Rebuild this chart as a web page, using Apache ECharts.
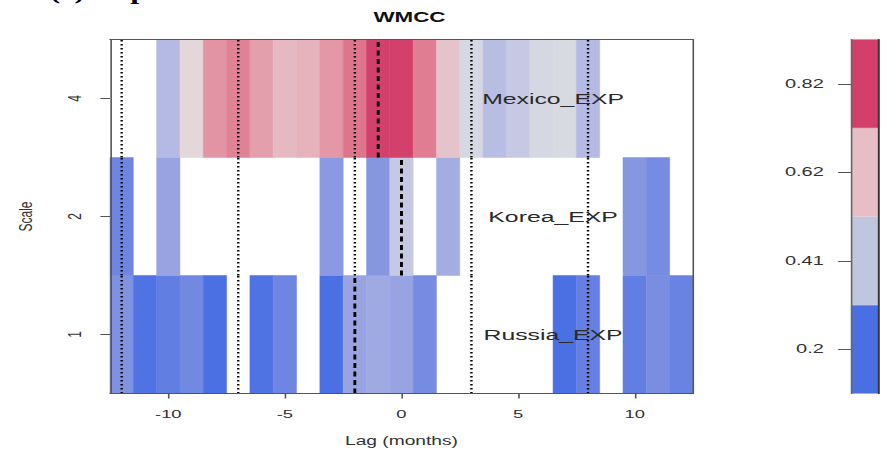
<!DOCTYPE html>
<html>
<head>
<meta charset="utf-8">
<script src="https://cdn.jsdelivr.net/npm/echarts@6/dist/echarts.min.js"></script>
<style>
  html, body { margin: 0; padding: 0; background: #fff; }
  #frame { width: 886px; height: 453px; overflow: hidden; position: relative; }
  /* chart is laid out narrow and stretched horizontally, like the original R export */
  #chart { width: 554px; height: 453px; transform-origin: 0 0; transform: scaleX(1.59928); }
</style>
</head>
<body>
<div id="frame"><div id="chart"></div></div>
<script>
// Lags (months) for each column of the wavelet multiple cross-correlation map
const lags = [-12, -11, -10, -9, -8, -7, -6, -5, -4, -3, -2, -1, 0, 1, 2, 3, 4, 5, 6, 7, 8, 9, 10, 11, 12];

// Wavelet scales, bottom row first
const scales = ['1', '2', '4'];
const rowNames = ['Russia_EXP', 'Korea_EXP', 'Mexico_EXP'];

// Correlation per lag for each scale (null = not shown)
const russia = [0.22, 0.11, 0.15, 0.19, 0.10, null, 0.11, 0.18, null, 0.10, 0.29, 0.31, 0.29, 0.20, null, null, null, null, null, 0.10, 0.16, null, 0.15, 0.21, 0.17];
const korea  = [0.18, null, 0.29, null, null, null, null, null, null, 0.25, null, 0.24, 0.42, null, 0.32, null, null, null, null, null, null, null, 0.24, 0.20, null];
const mexico = [null, null, 0.37, 0.54, 0.72, 0.77, 0.69, 0.62, 0.64, 0.71, 0.80, 0.92, 0.92, 0.78, 0.59, 0.47, 0.38, 0.42, 0.47, 0.48, 0.37, null, null, null, null];

// Lag of maximum correlation per scale (dashed line), bottom row first
const peakLags = [-2, 0, -1];
// Reference lags drawn as dotted lines
const guideLags = [-12, -7, -2, 3, 8];

// Axis tick values and colour key labels
const xTicks = [-10, -5, 0, 5, 10];
const keyLabels = ['0.2', '0.41', '0.62', '0.82'];

// Colour ramp (blue -> grey -> red) and the four key colours
const cellRamp = ['#4A6FE3', '#8595E1', '#B5BBE3', '#E2E2E2', '#E6AFB9', '#E07B91', '#D33F6A'];
const keyColors = ['#4A6FE3', '#C0C5E0', '#E8BEC6', '#D33F6A'];
const valueMin = 0.097, valueMax = 0.923;

const rows = [russia, korea, mexico];
const cells = [];
rows.forEach((vals, r) => vals.forEach((v, i) => { if (v != null) cells.push([lags[i], r, v]); }));

const lines = [];
rows.forEach((_, r) => {
  guideLags.forEach(l => { if (l !== peakLags[r]) lines.push([l, r, 0]); });
  lines.push([peakLags[r], r, 1]);
});

const labelLag = 6.5;
const rowLabels = rowNames.map((n, r) => [labelLag, r + 0.5, n]);

const FONT = '"Liberation Sans", Arial, sans-serif';
const AX = '#555';

const chart = echarts.init(document.getElementById('chart'), null, { renderer: 'svg' });

chart.setOption({
  animation: false,
  backgroundColor: '#fff',
  title: {
    text: 'WMCC',
    left: 251,
    top: 5,
    textAlign: 'center',
    textStyle: { fontFamily: FONT, fontWeight: 'bold', fontSize: 14, color: '#111' }
  },
  graphic: [{
    type: 'text', x: 31, y: -7.3,
    style: { text: '(c) Export', font: 'bold 20px "Liberation Serif", serif', fill: '#000', verticalAlign: 'middle' }
  }],
  grid: [
    { left: 68.78, right: 120.7, top: 39.5, bottom: 59.5, show: false },
    { left: 532.1, width: 17.5, top: 39.5, bottom: 59.5, show: false }
  ],
  visualMap: {
    type: 'continuous', show: false, seriesIndex: 0, dimension: 2,
    min: valueMin, max: valueMax, inRange: { color: cellRamp }
  },
  xAxis: [
    {
      gridIndex: 0, type: 'value', min: -12.5, max: 12.5, position: 'bottom', z: 10,
      axisLine: { show: true, onZero: false, lineStyle: { color: AX, width: 1 } },
      axisTick: { show: true, customValues: xTicks, length: 5, lineStyle: { color: AX } },
      axisLabel: { customValues: xTicks, margin: 14, fontSize: 11.5, fontFamily: FONT, color: '#333' },
      splitLine: { show: false },
      name: 'Lag (months)', nameLocation: 'middle', nameGap: 41,
      nameTextStyle: { fontSize: 12, fontFamily: FONT, color: '#333' }
    },
    {
      gridIndex: 0, type: 'value', min: -12.5, max: 12.5, position: 'top', z: 10,
      axisLine: { show: true, onZero: false, lineStyle: { color: AX, width: 1 } },
      axisTick: { show: false }, axisLabel: { show: false }, splitLine: { show: false }
    },
    { gridIndex: 1, type: 'value', min: 0, max: 1, show: false }
  ],
  yAxis: [
    {
      gridIndex: 0, type: 'value', min: 0, max: 3, position: 'left', z: 10,
      axisLine: { show: true, onZero: false, lineStyle: { color: AX, width: 1 } },
      axisTick: { show: true, customValues: [0.5, 1.5, 2.5], length: 6, lineStyle: { color: AX } },
      axisLabel: {
        customValues: [0.5, 1.5, 2.5], rotate: 90, margin: 16,
        fontSize: 12, fontFamily: FONT, color: '#333',
        formatter: v => scales[Math.floor(v)]
      },
      splitLine: { show: false },
      name: 'Scale', nameLocation: 'middle', nameGap: 47, nameRotate: 90,
      nameTextStyle: { fontSize: 12, fontFamily: FONT, color: '#333' }
    },
    {
      gridIndex: 0, type: 'value', min: 0, max: 3, position: 'right', z: 10,
      axisLine: { show: true, onZero: false, lineStyle: { color: AX, width: 1 } },
      axisTick: { show: false }, axisLabel: { show: false }, splitLine: { show: false }
    },
    {
      gridIndex: 1, type: 'category', data: keyLabels, position: 'left', z: 10,
      axisLine: { show: true, lineStyle: { color: '#666' } },
      axisTick: { show: true, alignWithLabel: true, length: 8, lineStyle: { color: '#555' } },
      axisLabel: { margin: 17, fontSize: 12.5, fontFamily: FONT, color: '#333' }
    },
    {
      gridIndex: 1, type: 'category', data: keyLabels, position: 'right', z: 10,
      axisLine: { show: true, lineStyle: { color: '#333', width: 1.2 } },
      axisTick: { show: false }, axisLabel: { show: false }
    }
  ],
  series: [
    {
      name: 'cells', type: 'custom', xAxisIndex: 0, yAxisIndex: 0, clip: true, z: 2,
      encode: { x: 0, y: 1 },
      data: cells,
      renderItem: (params, api) => {
        const lag = api.value(0), row = api.value(1);
        const p0 = api.coord([lag - 0.5, row + 1]);
        const p1 = api.coord([lag + 0.5, row]);
        const c = api.visual('color');
        return {
          type: 'rect',
          shape: { x: p0[0], y: p0[1], width: p1[0] - p0[0], height: p1[1] - p0[1] },
          style: { fill: c, stroke: c, lineWidth: 0.4 }
        };
      }
    },
    {
      name: 'labels', type: 'custom', xAxisIndex: 0, yAxisIndex: 0, z: 3,
      encode: { x: 0, y: 1 },
      data: rowLabels,
      renderItem: (params, api) => {
        const p = api.coord([api.value(0), api.value(1)]);
        return {
          type: 'text', x: p[0], y: p[1],
          style: {
            text: rowLabels[params.dataIndex][2],
            font: '15.5px ' + FONT, fill: '#2a2a2a', align: 'center', verticalAlign: 'middle'
          }
        };
      }
    },
    {
      name: 'lags', type: 'custom', xAxisIndex: 0, yAxisIndex: 0, z: 4,
      encode: { x: 0, y: 1 },
      data: lines,
      renderItem: (params, api) => {
        const lag = api.value(0), row = api.value(1), peak = api.value(2) === 1;
        const a = api.coord([lag, row]);
        const b = api.coord([lag, row + 1]);
        return {
          type: 'line',
          shape: { x1: a[0], y1: a[1], x2: b[0], y2: b[1] },
          style: peak
            ? { stroke: '#000', lineWidth: 1.8, lineDash: [5, 3.5] }
            : { stroke: '#000', lineWidth: 1.5, lineDash: [1.6, 2.4] }
        };
      }
    },
    {
      name: 'key', type: 'bar', xAxisIndex: 2, yAxisIndex: 2,
      barWidth: '100%', barCategoryGap: '0%',
      data: keyColors.map(c => ({ value: 1, itemStyle: { color: c, borderColor: c, borderWidth: 0.4 } })),
      silent: true
    }
  ]
});
</script>
</body>
</html>
